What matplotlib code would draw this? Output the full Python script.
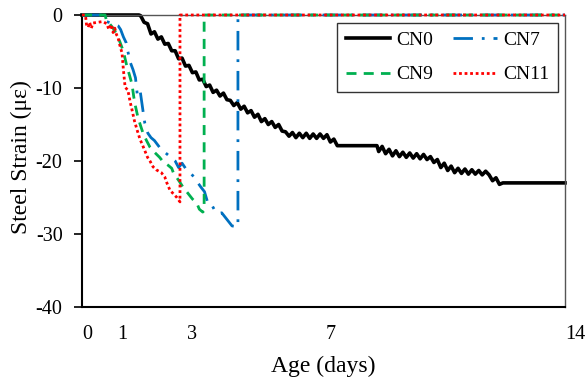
import matplotlib
matplotlib.use("Agg")
import matplotlib.pyplot as plt
import matplotlib.transforms as mtransforms

plt.rcParams['font.family'] = ['Liberation Serif', 'DejaVu Serif']

# ---------------- data ----------------
cn0_day = [0, 1.65, 1.70, 1.80, 1.90, 2.00, 2.10, 2.20, 2.30, 2.40, 2.50, 2.60, 2.70, 2.80,
           2.90, 3.00, 3.10, 3.20, 3.30, 3.40, 3.50, 3.60, 3.70, 3.80, 3.90, 4.00, 4.10,
           4.20, 4.30, 4.40, 4.50, 4.60, 4.70, 4.80, 4.90, 5.00, 5.10, 5.20, 5.30, 5.40,
           5.50, 5.60, 5.70, 5.80, 5.90, 6.00, 6.10, 6.20, 6.30, 6.40, 6.50, 6.60, 6.70,
           6.80, 6.90, 7.00, 7.10, 7.20, 7.30, 7.40, 7.50, 8.55, 8.60, 8.70, 8.80, 8.90,
           9.00, 9.10, 9.20, 9.30, 9.40, 9.50, 9.60, 9.70, 9.80, 9.90, 10.00, 10.10, 10.20,
           10.30, 10.40, 10.50, 10.60, 10.70, 10.80, 10.90, 11.00, 11.10, 11.20, 11.30,
           11.40, 11.50, 11.60, 11.70, 11.80, 11.90, 12.00, 12.10, 12.20, 14.0]
cn0_val = [0, 0, -0.1, -1.0, -1.2, -2.6, -2.3, -3.3, -3.0, -4.0, -3.9, -4.9, -4.9, -6.0,
           -5.9, -7.0, -6.9, -7.9, -7.8, -8.9, -8.8, -9.8, -9.6, -10.6, -10.3, -11.1, -10.7,
           -11.6, -11.7, -12.4, -12.0, -12.9, -12.5, -13.4, -13.1, -14.0, -13.6, -14.6,
           -14.2, -15.0, -14.6, -15.4, -15.0, -15.9, -16.0, -16.6, -16.1, -16.8, -16.2,
           -16.8, -16.2, -16.9, -16.3, -16.9, -16.3, -16.9, -16.4, -17.4, -17.0, -17.9,
           -17.9, -17.9, -18.7, -18.0, -19.0, -18.4, -19.3, -18.6, -19.4, -18.8, -19.5,
           -18.9, -19.6, -19.0, -19.7, -19.1, -19.8, -19.4, -20.2, -19.8, -20.9, -20.3,
           -21.3, -20.7, -21.6, -21.0, -21.7, -21.1, -21.8, -21.2, -21.8, -21.3, -21.9,
           -21.4, -21.9, -22.7, -22.3, -23.2, -23.0, -23.0]

cn7_day = [0, 0.55, 0.65, 0.9, 1.05, 1.12, 1.2, 1.28, 1.33, 1.4, 1.48, 1.55, 1.6, 1.68,
           1.77, 1.82, 1.91, 2.0, 2.1, 2.26, 2.4, 2.55, 2.7, 2.8, 2.9, 3.0, 3.13, 3.25,
           3.36, 3.45, 3.55, 3.65, 3.75, 3.85, 3.95, 4.05, 4.2, 4.35, 4.52, 4.52, 14.0]
cn7_val = [0, 0, -0.8, -1.2, -1.5, -2.0, -3.0, -3.8, -5.0, -6.5, -7.5, -8.6, -10.8, -10.2,
           -13.2, -14.8, -16.2, -16.8, -17.2, -18.2, -18.8, -19.4, -20.0, -20.9, -20.3,
           -21.0, -21.6, -22.2, -23.0, -23.6, -24.2, -25.8, -25.9, -26.8, -27.2, -27.1,
           -28.0, -28.9, -29.0, 0, 0]

cn9_day = [0, 0.67, 0.72, 0.8, 0.9, 1.0, 1.1, 1.2, 1.3, 1.38, 1.45, 1.5, 1.55, 1.62, 1.7,
           1.77, 1.87, 1.97, 2.1, 2.25, 2.35, 2.5, 2.6, 2.68, 2.75, 2.85, 2.93, 3.0, 3.1,
           3.2, 3.33, 3.4, 3.5, 3.54, 3.54, 14.0]
cn9_val = [0, 0, -1.0, -1.2, -1.8, -2.6, -3.7, -5.0, -7.0, -8.3, -9.5, -11.2, -12.5, -14.0,
           -15.2, -16.2, -17.2, -18.1, -18.8, -19.5, -20.1, -20.6, -21.0, -22.0, -22.3,
           -23.0, -23.6, -24.0, -24.6, -25.2, -25.8, -26.6, -27.0, -26.8, 0, 0]

cn11_day = [0, 0.1, 0.13, 0.18, 0.22, 0.27, 0.32, 0.45, 0.6, 0.72, 0.78, 0.85, 0.9, 0.95,
            1.0, 1.04, 1.1, 1.16, 1.2, 1.25, 1.33, 1.4, 1.45, 1.52, 1.6, 1.68, 1.77, 1.9,
            1.97, 2.06, 2.15, 2.3, 2.4, 2.46, 2.55, 2.65, 2.75, 2.84, 2.84, 14.0]
cn11_val = [0, 0, -1.3, -1.7, -1.0, -1.8, -1.1, -1.0, -0.9, -1.2, -2.0, -1.3, -2.4, -1.8,
            -2.7, -3.0, -4.2, -5.2, -7.5, -9.9, -10.3, -12.0, -13.0, -14.5, -15.8, -17.0,
            -18.0, -19.5, -20.0, -20.8, -21.2, -21.6, -22.2, -23.0, -24.0, -24.5, -25.0,
            -25.6, 0, 0]

xticks = [0, 1, 3, 7, 14]
yticks = [0, -10, -20, -30, -40]

# ---------------- figure ----------------
fig = plt.figure(figsize=(5.87, 3.81), dpi=100)
ax = fig.add_axes([82 / 587, 1 - 307 / 381, 483 / 587, 292 / 381])

lw = 2.0
l0, = ax.plot(cn0_day, cn0_val, color='black', lw=2.6, label='CN0', zorder=2,
              clip_on=False)
l7, = ax.plot(cn7_day, cn7_val, color='#0070C0', lw=lw, label='CN7',
              linestyle=(0, (7, 3.2, 1, 3.2)), zorder=3, clip_on=False)
l9, = ax.plot(cn9_day, cn9_val, color='#00B050', lw=lw, label='CN9',
              linestyle=(0, (3.6, 2.6)), zorder=4, clip_on=False)
l11, = ax.plot(cn11_day, cn11_val, color='#FF0000', lw=lw, label='CN11',
               linestyle=(0, (1, 1)), zorder=5, clip_on=False)

ax.set_xlim(0, 14)
ax.set_ylim(-40, 0)
ax.set_yticks(yticks)
ax.set_yticklabels([str(v) for v in yticks])
ax.set_xticks(xticks)
ax.set_xticklabels([str(v) for v in xticks])

ax.tick_params(axis='y', direction='out', length=6, width=1.2, pad=8, labelsize=14.5)
ax.tick_params(axis='x', length=0, pad=13, labelsize=14.5)
for lab, d in zip(ax.get_xticklabels(), xticks):
    off = (5 + 0.36 * d) / 100.0
    lab.set_transform(lab.get_transform() + mtransforms.ScaledTranslation(off, 0, fig.dpi_scale_trans))

for s in ['left', 'bottom']:
    ax.spines[s].set_linewidth(1.5)
    ax.spines[s].set_color('black')
for s in ['right', 'top']:
    ax.spines[s].set_linewidth(1.0)
    ax.spines[s].set_color('#555555')

ax.set_xlabel('Age (days)', fontsize=17)
ax.set_ylabel('Steel Strain (\u03bc\u03b5)', fontsize=17)
ax.xaxis.set_label_coords(0.5, -0.168)
ax.yaxis.set_label_coords(-0.103, 0.515)

leg = ax.legend([l0, l9, l7, l11], ['CN0', 'CN9', 'CN7', 'CN11'], ncol=2,
                loc='upper right', bbox_to_anchor=(0.9855, 0.973), borderaxespad=0,
                fontsize=14, frameon=True, fancybox=False, handlelength=2.3,
                handletextpad=0.3, columnspacing=1.0, labelspacing=0.85,
                borderpad=0.45)
leg.get_frame().set_edgecolor('black')
leg.get_frame().set_linewidth(1.0)

fig.savefig('out.png', dpi=100, facecolor='white')
